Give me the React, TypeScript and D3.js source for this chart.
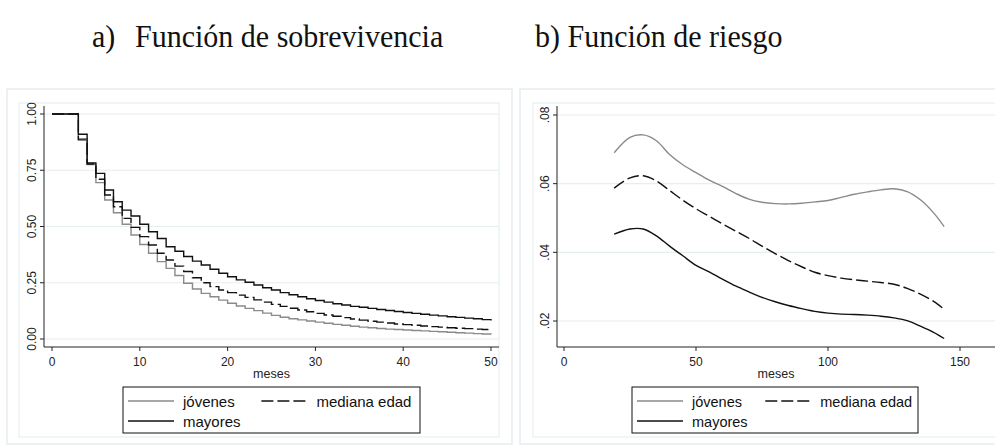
import { useRef, useEffect } from "react";
import * as d3 from "d3";

const width = 995;
const height = 445;

// survival (Kaplan-Meier), months 0..50
const months = d3.range(0, 51);
const survJovenes = [
  1, 1, 1, 0.89, 0.775, 0.695, 0.618, 0.561, 0.51, 0.462, 0.42, 0.381, 0.344, 0.314, 0.282, 0.248, 0.222,
  0.203, 0.188, 0.173, 0.159, 0.147, 0.136, 0.126, 0.115, 0.105, 0.097, 0.09, 0.085, 0.08, 0.075, 0.07,
  0.065, 0.061, 0.057, 0.053, 0.05, 0.047, 0.044, 0.042, 0.04, 0.038, 0.036, 0.034, 0.032, 0.03, 0.028,
  0.026, 0.024, 0.022, 0.02,
];
const survMediana = [
  1, 1, 1, 0.885, 0.778, 0.71, 0.64, 0.588, 0.536, 0.496, 0.455, 0.418, 0.381, 0.351, 0.324, 0.3, 0.272,
  0.25, 0.233, 0.218, 0.206, 0.195, 0.185, 0.174, 0.164, 0.154, 0.145, 0.137, 0.129, 0.121, 0.114, 0.107,
  0.101, 0.095, 0.089, 0.084, 0.079, 0.075, 0.071, 0.067, 0.064, 0.061, 0.058, 0.055, 0.053, 0.05, 0.048,
  0.046, 0.044, 0.042, 0.039,
];
const survMayores = [
  1, 1, 1, 0.91, 0.782, 0.736, 0.662, 0.61, 0.573, 0.547, 0.51, 0.477, 0.447, 0.41, 0.39, 0.367, 0.346,
  0.329, 0.31, 0.292, 0.277, 0.263, 0.252, 0.24, 0.228, 0.218, 0.206, 0.197, 0.188, 0.179, 0.171, 0.164,
  0.157, 0.151, 0.145, 0.141, 0.136, 0.131, 0.127, 0.122, 0.118, 0.114, 0.11, 0.106, 0.103, 0.099, 0.096,
  0.093, 0.09, 0.086, 0.082,
];

// smoothed hazard
const hazMonths = [19, 25, 30, 35, 40, 45, 50, 55, 60, 65, 70, 75, 80, 85, 90, 95, 100, 105, 110, 115, 120, 125, 130, 135, 140, 144];
const hazJovenes = [
  0.069, 0.0735, 0.0742, 0.0725, 0.0685, 0.0655, 0.0632, 0.061, 0.0592, 0.0572, 0.0555, 0.0546, 0.0542,
  0.0541, 0.0543, 0.0547, 0.0551, 0.056, 0.0569, 0.0576, 0.0582, 0.0585, 0.0577, 0.0553, 0.0515, 0.0475,
];
const hazMediana = [
  0.0587, 0.0617, 0.0623, 0.0608, 0.058, 0.0552, 0.0527, 0.0505, 0.0483, 0.0462, 0.0441, 0.0418, 0.0396,
  0.0376, 0.0358, 0.0342, 0.0332, 0.0325, 0.032, 0.0316, 0.0312, 0.0307, 0.0295, 0.0278, 0.0257, 0.0234,
];
const hazMayores = [
  0.0453, 0.0468, 0.0468, 0.0448, 0.0418, 0.039, 0.0362, 0.0343, 0.0322, 0.0302, 0.0285, 0.0269, 0.0256,
  0.0245, 0.0236, 0.0228, 0.0223, 0.022, 0.0219, 0.0217, 0.0214, 0.0209, 0.0201, 0.0185, 0.0167, 0.0149,
];

const survYTicks = [0, 0.25, 0.5, 0.75, 1];
const survXTicks = [0, 10, 20, 30, 40, 50];
const hazYTicks = [0.02, 0.04, 0.06, 0.08];
const hazXTicks = [0, 50, 100, 150];

const GRAY = "#8a8a8a";
const BLACK = "#111";
const GRID = "#e6eef0";
const DASH = "12,4";
const SANS = "'Liberation Sans', Arial, sans-serif";

type Series = { label: string; color: string; dash: string | null; values: number[] };

interface PanelCfg {
  outer: [number, number, number, number];
  inner: [number, number, number, number];
  axisX: number; // y-axis position
  axisY: number; // x-axis position
  axisRight: number;
  xScale: d3.ScaleLinear<number, number>;
  yScale: d3.ScaleLinear<number, number>;
  xTicks: number[];
  yTicks: number[];
  yFmt: (v: number) => string;
  xs: number[];
  series: Series[];
  curve: d3.CurveFactory;
  legend: [number, number, number, number];
  legendFont: number;
}

function drawPanel(svg: d3.Selection<SVGSVGElement, unknown, null, undefined>, c: PanelCfg) {
  const g = svg.append("g");
  const [ox0, oy0, ox1, oy1] = c.outer;
  const [ix0, iy0, ix1, iy1] = c.inner;
  g.append("rect").attr("x", ox0).attr("y", oy0).attr("width", ox1 - ox0).attr("height", oy1 - oy0)
    .attr("fill", "white").attr("stroke", GRID).attr("stroke-width", 1.5);
  g.append("rect").attr("x", ix0).attr("y", iy0).attr("width", ix1 - ix0).attr("height", iy1 - iy0)
    .attr("fill", "white").attr("stroke", GRID).attr("stroke-width", 1.2);

  // gridlines
  g.selectAll(".grid").data(c.yTicks).join("line")
    .attr("x1", c.axisX).attr("x2", c.axisRight)
    .attr("y1", (d) => c.yScale(d)).attr("y2", (d) => c.yScale(d))
    .attr("stroke", GRID).attr("stroke-width", 1.2);

  // axes
  g.append("line").attr("x1", c.axisX).attr("x2", c.axisX).attr("y1", iy0 + 3).attr("y2", c.axisY)
    .attr("stroke", "#222").attr("stroke-width", 1);
  g.append("line").attr("x1", c.axisX).attr("x2", c.axisRight).attr("y1", c.axisY).attr("y2", c.axisY)
    .attr("stroke", "#222").attr("stroke-width", 1);

  g.selectAll(".yt").data(c.yTicks).join("line")
    .attr("x1", c.axisX - 4).attr("x2", c.axisX)
    .attr("y1", (d) => c.yScale(d)).attr("y2", (d) => c.yScale(d))
    .attr("stroke", "#222");
  g.selectAll(".yl").data(c.yTicks).join("text")
    .attr("transform", (d) => `translate(${c.axisX - 8},${c.yScale(d)}) rotate(-90)`)
    .attr("text-anchor", "middle")
    .attr("font-family", SANS).attr("font-size", 12).attr("fill", "#222")
    .text((d) => c.yFmt(d));

  g.selectAll(".xt").data(c.xTicks).join("line")
    .attr("x1", (d) => c.xScale(d)).attr("x2", (d) => c.xScale(d))
    .attr("y1", c.axisY).attr("y2", c.axisY + 4)
    .attr("stroke", "#222");
  g.selectAll(".xl").data(c.xTicks).join("text")
    .attr("x", (d) => c.xScale(d)).attr("y", c.axisY + 19)
    .attr("text-anchor", "middle")
    .attr("font-family", SANS).attr("font-size", 12).attr("fill", "#222")
    .text((d) => String(d));
  g.append("text").attr("x", (c.axisX + c.axisRight) / 2).attr("y", c.axisY + 31)
    .attr("text-anchor", "middle").attr("font-family", SANS).attr("font-size", 12.5).attr("fill", "#222")
    .text("meses");

  // lines
  const line = d3.line<number>()
    .x((_, i) => c.xScale(c.xs[i]))
    .y((d) => c.yScale(d))
    .curve(c.curve);
  c.series.forEach((s) => {
    g.append("path").datum(s.values)
      .attr("fill", "none").attr("stroke", s.color).attr("stroke-width", 1.4)
      .attr("stroke-dasharray", s.dash)
      .attr("d", line);
  });

  // legend
  const [lx0, ly0, lx1, ly1] = c.legend;
  g.append("rect").attr("x", lx0).attr("y", ly0).attr("width", lx1 - lx0).attr("height", ly1 - ly0)
    .attr("fill", "white").attr("stroke", "#111").attr("stroke-width", 1);
  const lw = lx1 - lx0;
  const slots = [
    { x: lx0 + 5, y: ly0 + 14 },
    { x: lx0 + lw * 0.466, y: ly0 + 14 },
    { x: lx0 + 5, y: ly0 + 34 },
  ];
  c.series.forEach((s, i) => {
    const p = slots[i];
    g.append("line").attr("x1", p.x).attr("x2", p.x + 46).attr("y1", p.y).attr("y2", p.y)
      .attr("stroke", s.color).attr("stroke-width", 1.4).attr("stroke-dasharray", s.dash);
    g.append("text").attr("x", p.x + 55).attr("y", p.y + 5.5)
      .attr("font-family", SANS).attr("font-size", c.legendFont).attr("fill", "#111")
      .text(s.label);
  });
}

export default function App() {
  const ref = useRef<SVGSVGElement | null>(null);

  useEffect(() => {
    const svg = d3.select(ref.current!);
    svg.selectAll("*").remove();

    svg.append("rect").attr("width", width).attr("height", height).attr("fill", "white");

    // titles are slightly taller than wide in the original
    const title = svg.append("g")
      .attr("transform", "translate(0,47) scale(1,1.08)")
      .attr("font-family", "'Liberation Serif', 'Times New Roman', serif")
      .attr("font-size", 30).attr("fill", "#111");
    title.append("text").attr("x", 92).attr("y", 0).text("a)");
    title.append("text").attr("x", 135).attr("y", 0).text("Función de sobrevivencia");
    title.append("text").attr("x", 535).attr("y", 0).text("b) Función de riesgo");

    const groups = (vals: number[][]): Series[] => [
      { label: "jóvenes", color: GRAY, dash: null, values: vals[0] },
      { label: "mediana edad", color: BLACK, dash: DASH, values: vals[1] },
      { label: "mayores", color: BLACK, dash: null, values: vals[2] },
    ];

    drawPanel(svg, {
      outer: [7, 89, 512, 444],
      inner: [19, 103, 499, 437],
      axisX: 44,
      axisY: 347,
      axisRight: 499,
      xScale: d3.scaleLinear().domain([0, 50]).range([52, 491]),
      yScale: d3.scaleLinear().domain([0, 1]).range([339, 114]),
      xTicks: survXTicks,
      yTicks: survYTicks,
      yFmt: d3.format(".2f"),
      xs: months,
      series: groups([survJovenes, survMediana, survMayores]),
      curve: d3.curveStepAfter,
      legend: [123, 387, 420, 433],
      legendFont: 15,
    });

    drawPanel(svg, {
      outer: [520, 89, 1002, 444],
      inner: [533, 103, 1000, 437],
      axisX: 557,
      axisY: 347,
      axisRight: 995,
      xScale: d3.scaleLinear().domain([0, 150]).range([564, 960]),
      yScale: d3.scaleLinear().domain([0.02, 0.08]).range([321, 115]),
      xTicks: hazXTicks,
      yTicks: hazYTicks,
      yFmt: (v) => d3.format(".2f")(v).replace(/^0/, ""),
      xs: hazMonths,
      series: groups([hazJovenes, hazMediana, hazMayores]),
      curve: d3.curveCatmullRom,
      legend: [632, 387, 918, 433],
      legendFont: 14.5,
    });
  }, []);

  return (
    <svg
      ref={ref}
      width={width}
      height={height}
      style={{ position: "absolute", left: 0, top: 0, display: "block" }}
    />
  );
}
